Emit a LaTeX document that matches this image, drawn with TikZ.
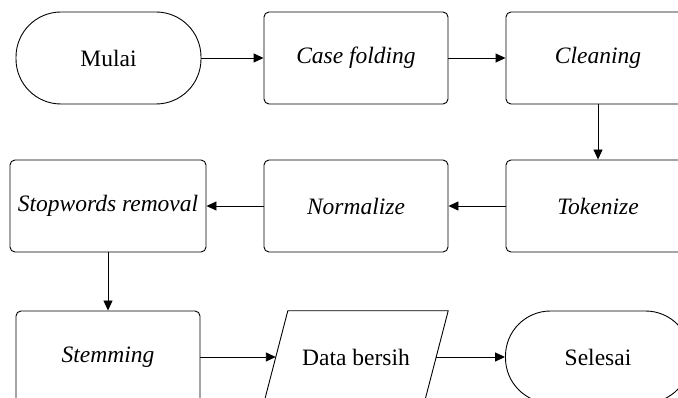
\documentclass[tikz,border=0pt]{standalone}
\usepackage{fontspec}
\setmainfont{Liberation Serif}
\usetikzlibrary{arrows.meta}

\begin{document}
\begin{tikzpicture}[x=1pt,y=-1pt,
  terminal/.style={draw, line width=0.9pt, rounded corners=45pt, minimum width=185pt, minimum height=92pt, font=\fontsize{23.5}{26}\selectfont},
  process/.style={draw, line width=0.9pt, rounded corners=5pt, minimum width=184pt, minimum height=92pt, font=\fontsize{23.5}{26}\selectfont\itshape},
  datain/.style={minimum width=160pt, minimum height=92pt, inner sep=0pt, font=\fontsize{23.5}{26}\selectfont},
  flow/.style={-{Triangle[width=9pt,length=10pt]}, line width=0.9pt}]
  % Fix the page size
  \useasboundingbox (0,0) rectangle (678,398);

  % First row
  \node[terminal] (mulai) at (108.5,58) {Mulai};
  \node[process] (casefold) at (356,58) {Case folding};
  \node[process] (cleaning) at (598,58) {Cleaning};

  % Second row
  \node[process, minimum width=196pt] (stopwords) at (108,206) {Stopwords removal};
  \node[process] (normalize) at (356,206) {Normalize};
  \node[process] (tokenize) at (598,206) {Tokenize};

  % Third row
  \node[process] (stemming) at (108,357) {Stemming};
  \node[datain] (data) at (356,357) {Data bersih};
  \node[terminal] (selesai) at (598,357) {Selesai};

  % Parallelogram round the data node
  \draw[line width=0.9pt] ([xshift=-12pt]data.south west) -- ([xshift=12pt]data.north west)
    -- ([xshift=12pt]data.north east) -- ([xshift=-12pt]data.south east) -- cycle;

  % Connectors
  \draw[flow] (mulai) -- (casefold);
  \draw[flow] (casefold) -- (cleaning);
  \draw[flow] (cleaning) -- (tokenize);
  \draw[flow] (tokenize) -- (normalize);
  \draw[flow] (normalize) -- (stopwords);
  \draw[flow] (stopwords) -- (stemming);
  \draw[flow] (stemming) -- (data);
  \draw[flow] (data) -- (selesai);
\end{tikzpicture}
\end{document}
